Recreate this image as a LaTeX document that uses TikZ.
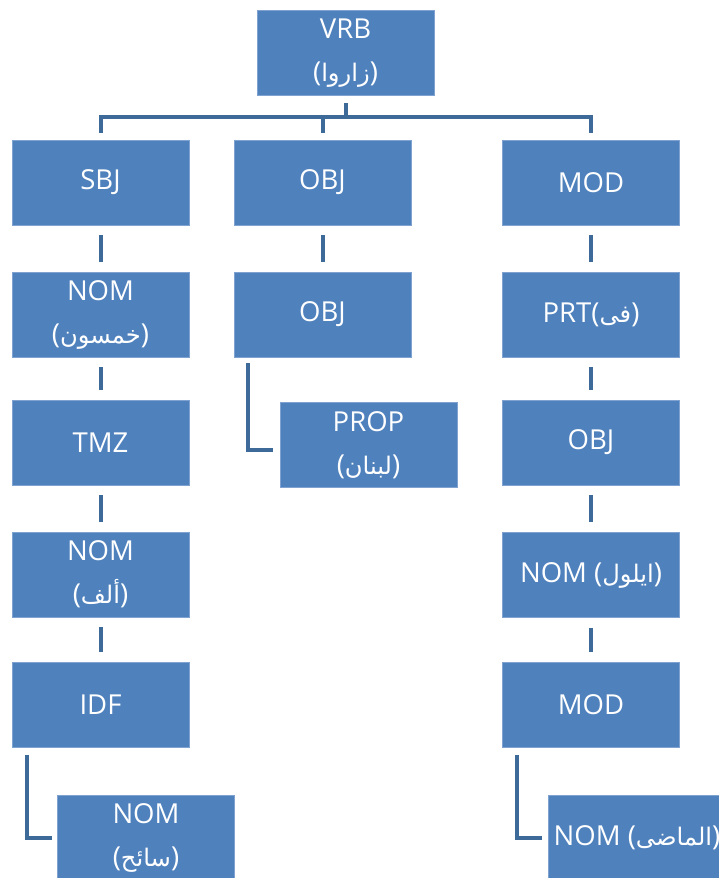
\documentclass[tikz,border=0pt]{standalone}
\usepackage{fontspec}
\setmainfont{Open Sans}
\newfontfamily\arabicfont[Script=Arabic,Scale=0.88]{DejaVu Sans}
\TeXXeTstate=1
% one Arabic word, set right to left
\newcommand\arw[1]{{\arabicfont\beginR #1\endR}}
\definecolor{boxblue}{HTML}{4F81BD}
\definecolor{boxedge}{HTML}{7FA2D0}
\definecolor{linkblue}{HTML}{3D6A99}
\begin{document}
\begin{tikzpicture}[x=1pt,y=-1pt,
  box/.style={draw=boxedge, line width=0.8pt, fill=boxblue, text=white,
    minimum width=177pt, minimum height=85pt, inner sep=0pt, align=center,
    font=\fontsize{27.5}{43}\selectfont},
  link/.style={draw=linkblue, line width=4pt},
  vlink/.style={link, shorten <=10pt, shorten >=10pt}]
\fill[white] (0,0) rectangle (719,878);
\useasboundingbox (0,0) rectangle (719,878);

% root
\node[box] (vrb) at (345.5,53) {VRB\\(\arw{زاروا})};

% first level
\node[box] (sbj)  at (100.5,182.5) {SBJ};
\node[box] (obj1) at (322.5,182.5) {OBJ};
\node[box] (mod1) at (591,182.5)   {MOD};

% subject chain
\node[box] (nom1) at (100.5,314.5) {NOM\\(\arw{خمسون})};
\node[box] (tmz)  at (100.5,442.5) {TMZ};
\node[box] (nom2) at (100.5,574.5) {NOM\\(\arw{ألف})};
\node[box] (idf)  at (100.5,705)   {IDF};
\node[box] (nom4) at (146,837.5)   {NOM\\(\arw{سائح})};

% object chain
\node[box] (obj2) at (322.5,314.5) {OBJ};
\node[box] (prop) at (368.5,445)   {PROP\\(\arw{لبنان})};

% modifier chain
\node[box] (prt)  at (591,314.5)   {PRT(\arw{فى})};
\node[box] (obj3) at (591,442.5)   {OBJ};
\node[box] (nom3) at (591,575)     {NOM (\arw{ايلول})};
\node[box] (mod2) at (591,705)     {MOD};
\node[box] (nom5) at (637,838)     {NOM (\arw{الماضى})};

% bus from the root to the first level
\coordinate (bus) at (345.5,117);
\draw[link] ([yshift=-7pt]vrb.south) -- (vrb.south |- bus);
\draw[link] ([yshift=7pt]sbj.north) |- (bus) -| ([yshift=7pt]mod1.north);
\draw[link] ([yshift=7pt]obj1.north) -- (obj1.north |- bus);

% straight links down each column
\draw[vlink] (sbj.south)  -- (nom1.north);
\draw[vlink] (nom1.south) -- (tmz.north);
\draw[vlink] (tmz.south)  -- (nom2.north);
\draw[vlink] (nom2.south) -- (idf.north);
\draw[vlink] (obj1.south) -- (obj2.north);
\draw[vlink] (mod1.south) -- (prt.north);
\draw[vlink] (prt.south)  -- (obj3.north);
\draw[vlink] (obj3.south) -- (nom3.north);
\draw[vlink] (nom3.south) -- (mod2.north);

% elbow links to the indented children
\draw[link] ([xshift=15pt,yshift=-7pt]idf.south west) |- ([xshift=-5pt]nom4.west);
\draw[link] ([xshift=14pt,yshift=-6pt]obj2.south west) |- ([xshift=-7pt,yshift=-5pt]prop.west);
\draw[link] ([xshift=15pt,yshift=-7pt]mod2.south west) |- ([xshift=-6pt]nom5.west);
\end{tikzpicture}
\end{document}
